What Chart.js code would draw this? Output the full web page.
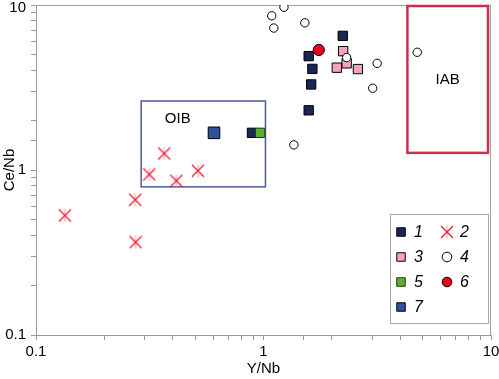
<!DOCTYPE html>
<html>
<head>
<meta charset="utf-8">
<script src="https://cdn.jsdelivr.net/npm/chart.js@4.4.1/dist/chart.umd.min.js"></script>
<style>
  html, body { margin: 0; padding: 0; background: #fff; }
  #wrap { width: 499px; height: 379px; }
</style>
</head>
<body>
<div id="wrap"><canvas id="c" width="499" height="379"></canvas></div>
<script>
// 数据
const s1 = [[2.23, 6.5], [1.58, 4.9], [1.64, 4.1], [1.62, 3.3], [1.58, 2.3], [0.89, 1.68]];
const s2 = [[0.366, 1.26], [0.315, 0.94], [0.414, 0.86], [0.515, 0.99], [0.273, 0.66], [0.134, 0.53], [0.274, 0.365]];
const s3 = [[2.24, 5.25], [2.10, 4.17], [2.32, 4.43], [2.60, 4.09]];
const s4 = [[1.23, 9.7], [1.087, 8.6], [1.11, 7.25], [1.52, 7.8], [2.32, 4.8], [3.16, 4.43], [3.02, 3.13], [1.36, 1.42], [4.74, 5.17]];
const s5 = [[0.966, 1.68]];
const s6 = [[1.75, 5.34]];
const s7 = [[0.606, 1.68]];

const seriesNames = ['1', '2', '3', '4', '5', '6', '7'];
const xTicks = [0.1, 1, 10];
const yTicks = [0.1, 1, 10];

// 区域框 [xmin, xmax, ymin, ymax]
const oibBox = [0.29, 1.02, 0.79, 2.62];
const iabBox = [4.29, 9.7, 1.27, 9.86];

const FONT = '"Liberation Sans", Arial, sans-serif';

// 星形标记（X 加竖线）
function makeStar() {
  const c = document.createElement('canvas');
  c.width = 14; c.height = 14;
  const g = c.getContext('2d');
  g.strokeStyle = '#e8a0a8';
  g.lineWidth = 1;
  g.beginPath(); g.moveTo(7, 0.5); g.lineTo(7, 13.5); g.stroke();
  g.strokeStyle = '#f01830';
  g.lineWidth = 1.3;
  g.beginPath();
  g.moveTo(1, 1); g.lineTo(13, 13);
  g.moveTo(13, 1); g.lineTo(1, 13);
  g.stroke();
  return c;
}
const starImg = makeStar();

const toXY = arr => arr.map(p => ({ x: p[0], y: p[1] }));

const datasets = [
  { label: seriesNames[0], data: toXY(s1), pointStyle: 'rect', pointRadius: 6.6, backgroundColor: '#1b2656', borderColor: '#000', borderWidth: 1, order: 7 },
  { label: seriesNames[1], data: toXY(s2), pointStyle: starImg, pointRadius: 7, backgroundColor: '#f01830', borderColor: '#f01830', borderWidth: 1, order: 6 },
  { label: seriesNames[2], data: toXY(s3), pointStyle: 'rect', pointRadius: 6.6, backgroundColor: '#f4a2c4', borderColor: '#000', borderWidth: 1, order: 5 },
  { label: seriesNames[3], data: toXY(s4), pointStyle: 'circle', pointRadius: 4.2, backgroundColor: '#fff', borderColor: '#000', borderWidth: 1, order: 4 },
  { label: seriesNames[4], data: toXY(s5), pointStyle: 'rect', pointRadius: 6.6, backgroundColor: '#5fae2e', borderColor: '#1e3a10', borderWidth: 1, order: 3 },
  { label: seriesNames[5], data: toXY(s6), pointStyle: 'circle', pointRadius: 5.6, backgroundColor: '#e8001c', borderColor: '#000', borderWidth: 1, order: 2 },
  { label: seriesNames[6], data: toXY(s7), pointStyle: 'rect', pointRadius: 8.2, backgroundColor: '#2e52a0', borderColor: '#000', borderWidth: 1, order: 1 }
];

// 画 OIB / IAB 框、外框和刻度文字
const boxesPlugin = {
  id: 'boxes',
  beforeDatasetsDraw(chart) {
    const { ctx, scales: { x, y }, chartArea } = chart;
    ctx.save();
    ctx.strokeStyle = '#a0a0a0';
    ctx.lineWidth = 1;
    ctx.beginPath();
    ctx.moveTo(chartArea.left, chartArea.top + 0.5);
    ctx.lineTo(chartArea.right - 0.5, chartArea.top + 0.5);
    ctx.lineTo(chartArea.right - 0.5, chartArea.bottom);
    ctx.stroke();

    function box(b, color, w) {
      const l = x.getPixelForValue(b[0]), r = x.getPixelForValue(b[1]);
      const t = y.getPixelForValue(b[3]), bt = y.getPixelForValue(b[2]);
      ctx.strokeStyle = color;
      ctx.lineWidth = w;
      ctx.strokeRect(l, t, r - l, bt - t);
    }
    box(oibBox, '#4b5a98', 1.5);
    box(iabBox, '#c8304c', 2.5);

    ctx.fillStyle = '#000';
    ctx.font = '15px ' + FONT;
    ctx.textAlign = 'center';
    ctx.textBaseline = 'middle';
    ctx.fillText('OIB', x.getPixelForValue(0.42), y.getPixelForValue(2.05));
    ctx.fillText('IAB', x.getPixelForValue(6.45), y.getPixelForValue(3.5));

    // 刻度标签
    ctx.font = '15px ' + FONT;
    xTicks.forEach(v => {
      ctx.textAlign = 'center';
      ctx.fillText(String(v), x.getPixelForValue(v), chartArea.bottom + 17);
    });
    yTicks.forEach(v => {
      ctx.textAlign = 'right';
      ctx.fillText(String(v), chartArea.left - 10, Math.max(y.getPixelForValue(v), 8));
    });
    ctx.restore();
  }
};

// 自定义图例（两列）
const legendPlugin = {
  id: 'gridLegend',
  afterDraw(chart) {
    const { ctx } = chart;
    const helpers = Chart.helpers;
    ctx.save();
    ctx.strokeStyle = '#a8a8a8';
    ctx.lineWidth = 1;
    ctx.fillStyle = '#fff';
    ctx.fillRect(390.5, 214.5, 98, 109);
    ctx.strokeRect(390.5, 214.5, 98, 109);
    const rowY = [232, 257, 282, 307];
    const colX = [401, 447];
    chart.data.datasets.forEach((ds, i) => {
      const cx = colX[i % 2], cy = rowY[Math.floor(i / 2)];
      ctx.fillStyle = ds.backgroundColor;
      ctx.strokeStyle = ds.borderColor;
      ctx.lineWidth = ds.borderWidth;
      const r = ds.pointStyle === 'rect' ? 6 : (ds.pointStyle === 'circle' ? 4.8 : 7);
      helpers.drawPoint(ctx, { pointStyle: ds.pointStyle, radius: r, rotation: 0, borderWidth: ds.borderWidth }, cx, cy);
      ctx.fillStyle = '#000';
      ctx.font = 'italic 16px ' + FONT;
      ctx.textAlign = 'left';
      ctx.textBaseline = 'middle';
      ctx.fillText(ds.label, cx + 13, cy + 1);
    });
    ctx.restore();
  }
};

const axisCommon = {
  type: 'logarithmic',
  min: 0.1,
  max: 10,
  border: { color: '#9a9a9a', width: 1 },
  grid: { display: true, drawOnChartArea: false, drawTicks: true, tickLength: 5, color: '#9a9a9a' },
  ticks: { display: false, autoSkip: false }
};

new Chart(document.getElementById('c').getContext('2d'), {
  type: 'scatter',
  data: { datasets },
  options: {
    responsive: false,
    animation: false,
    devicePixelRatio: 1,
    layout: { autoPadding: false, padding: { top: 5, right: 8, left: 0, bottom: 0 } },
    plugins: { legend: { display: false }, tooltip: { enabled: false } },
    scales: {
      x: Object.assign({}, axisCommon, {
        position: 'bottom',
        title: { display: true, text: 'Y/Nb', color: '#000', font: { family: FONT, size: 15 }, padding: { top: 0, bottom: 1 } },
        afterFit: s => { s.height = 44; }
      }),
      y: Object.assign({}, axisCommon, {
        position: 'left',
        title: { display: true, text: 'Ce/Nb', color: '#000', font: { family: FONT, size: 15 }, padding: { top: 1, bottom: 0 } },
        afterFit: s => { s.width = 36; }
      })
    }
  },
  plugins: [boxesPlugin, legendPlugin]
});
</script>
</body>
</html>
